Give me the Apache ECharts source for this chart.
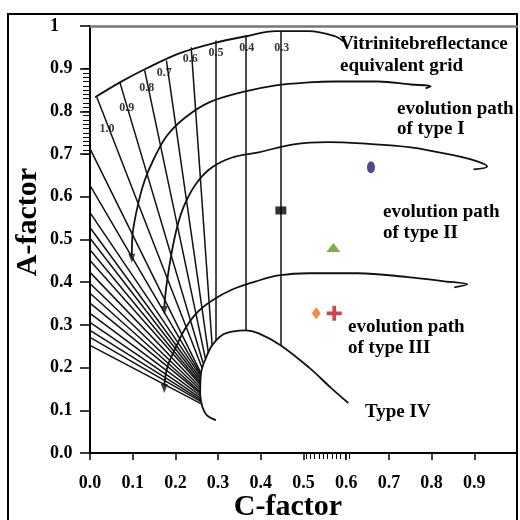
<!DOCTYPE html>
<html><head><meta charset="utf-8">
<script src="https://cdn.jsdelivr.net/npm/echarts@6/dist/echarts.min.js"></script>
<style>html,body{margin:0;padding:0;background:#fff}#c{width:520px;height:520px}</style>
</head><body><div id="c"></div><script>
// ---- data ----
const xTickLabels = ['0.0','0.1','0.2','0.3','0.4','0.5','0.6','0.7','0.8','0.9'];
const yTickLabels = ['0.0','0.1','0.2','0.3','0.4','0.5','0.6','0.7','0.8','0.9','1'];

const topBoundary = [[0.012,0.833],[0.070,0.868],[0.133,0.901],[0.209,0.936],[0.286,0.959],[0.365,0.976],[0.435,0.988],[0.512,0.988],[0.574,0.976],[0.593,0.964]];
const typeIPath = [[0.786,0.854],[0.798,0.859],[0.751,0.863],[0.674,0.870],[0.574,0.870],[0.512,0.868],[0.435,0.861],[0.356,0.845],[0.279,0.821],[0.221,0.784],[0.181,0.744],[0.151,0.692],[0.128,0.638],[0.112,0.580],[0.100,0.515],[0.098,0.464]];
const typeIIPath = [[0.898,0.664],[0.930,0.671],[0.907,0.683],[0.853,0.697],[0.751,0.716],[0.635,0.725],[0.558,0.728],[0.477,0.723],[0.395,0.704],[0.333,0.692],[0.286,0.669],[0.251,0.634],[0.223,0.585],[0.205,0.533],[0.191,0.468],[0.179,0.392],[0.174,0.343]];
const typeIIIPath = [[0.853,0.388],[0.884,0.395],[0.830,0.402],[0.744,0.412],[0.628,0.421],[0.512,0.421],[0.442,0.416],[0.395,0.404],[0.333,0.383],[0.286,0.357],[0.249,0.327],[0.221,0.288],[0.198,0.241],[0.181,0.201],[0.174,0.159]];
const typeIVPath = [[0.295,0.077],[0.274,0.088],[0.263,0.109],[0.258,0.139],[0.260,0.187],[0.272,0.224],[0.286,0.252],[0.309,0.276],[0.337,0.285],[0.365,0.287],[0.395,0.280],[0.447,0.252],[0.512,0.201],[0.565,0.152],[0.605,0.117]];
const arrowHeads = [[0.098,0.456],[0.174,0.334],[0.174,0.151]];

const roLabels = ['1.0','0.9','0.8','0.7','0.6','0.5','0.4','0.3'];
const roLineStart = [[0.016,0.833],[0.070,0.868],[0.128,0.896],[0.179,0.919],[0.237,0.950],[0.295,0.966],[0.365,0.978],[0.447,0.987]];
const roLineEnd = [[0.263,0.198],[0.265,0.210],[0.270,0.222],[0.277,0.236],[0.286,0.252],[0.295,0.263],[0.365,0.287],[0.447,0.252]];
const roLabelPos = [[0.040,0.760],[0.086,0.809],[0.133,0.854],[0.174,0.889],[0.235,0.924],[0.295,0.938],[0.367,0.948],[0.449,0.948]];

const axisFanStartY = [0.713,0.627,0.563,0.528,0.503,0.476,0.451,0.423,0.397,0.374,0.351,0.327,0.306,0.287,0.271,0.252];
const axisFanEnd = [[0.259,0.189],[0.259,0.184],[0.259,0.180],[0.259,0.174],[0.259,0.168],[0.259,0.163],[0.259,0.159],[0.258,0.154],[0.258,0.148],[0.258,0.143],[0.259,0.139],[0.259,0.134],[0.260,0.128],[0.261,0.123],[0.262,0.119],[0.263,0.114]];

const purpleSample = [[0.658,0.669]];
const blackSample = [[0.447,0.568]];
const greenSample = [[0.570,0.481]];
const orangeSample = [[0.530,0.327]];
const redSample = [[0.572,0.327]];

// ---- chart ----
const F = '"Liberation Serif", "DejaVu Serif", serif';
const ink = '#111';
const chart = echarts.init(document.getElementById('c'), null, {renderer:'canvas'});
const baseLine = {color: ink, width: 1.8};
function curve(data){
  return {type:'line', xAxisIndex:0, yAxisIndex:0, data, smooth:0.35, symbol:'none', lineStyle:baseLine, silent:true, z:3};
}
const fanData = [];
roLineStart.forEach((s,i)=>fanData.push({coords:[s, roLineEnd[i]]}));
axisFanStartY.forEach((y,i)=>fanData.push({coords:[[0,y], axisFanEnd[i]]}));

const option = {
  animation:false,
  backgroundColor:'#fff',
  grid:[
    {left:90, top:26, width:432, height:427},
    {left:90, top:68.7, width:10, height:85.4},
    {left:306, top:26, width:43.2, height:427}
  ],
  xAxis:[
    {gridIndex:0, type:'value', min:0, max:1, interval:0.1,
     axisLine:{lineStyle:{color:'#000', width:2}},
     axisTick:{length:7, lineStyle:{color:'#000', width:1.5}},
     axisLabel:{margin:21, color:'#000', fontFamily:F, fontWeight:'bold', fontSize:18,
       formatter:(v)=>{const i=Math.round(v*10); return xTickLabels[i]||'';}},
     splitLine:{show:false}},
    {gridIndex:0, type:'value', position:'top', min:0, max:1,
     axisLine:{lineStyle:{color:'#777', width:2.5}}, axisTick:{show:false}, axisLabel:{show:false}, splitLine:{show:false}},
    {gridIndex:1, type:'value', min:0, max:1, show:false},
    {gridIndex:2, type:'value', min:0.5, max:0.6, interval:0.01,
     axisLine:{show:false}, axisTick:{length:6, lineStyle:{color:'#000', width:1}}, axisLabel:{show:false}, splitLine:{show:false}}
  ],
  yAxis:[
    {gridIndex:0, type:'value', min:0, max:1, interval:0.1,
     axisLine:{lineStyle:{color:'#000', width:2}},
     axisTick:{length:10, lineStyle:{color:'#000', width:1.5}},
     axisLabel:{margin:40, align:'left', color:'#000', fontFamily:F, fontWeight:'bold', fontSize:18,
       formatter:(v)=>{const i=Math.round(v*10); return yTickLabels[i]||'';}},
     splitLine:{show:false}},
    {gridIndex:1, type:'value', min:0.7, max:0.9, interval:0.01,
     axisLine:{show:false}, axisTick:{length:7, lineStyle:{color:'#000', width:1}}, axisLabel:{show:false}, splitLine:{show:false}},
    {gridIndex:2, type:'value', min:0, max:1, show:false}
  ],
  series:[
    {type:'lines', coordinateSystem:'cartesian2d', xAxisIndex:0, yAxisIndex:0, data:fanData,
     lineStyle:{color:ink, width:1.5, opacity:1}, silent:true, z:2},
    curve(topBoundary), curve(typeIPath), curve(typeIIPath), curve(typeIIIPath), curve(typeIVPath),
    {type:'scatter', xAxisIndex:0, yAxisIndex:0, data:arrowHeads, symbol:'triangle', symbolRotate:180, symbolSize:[7,9],
     itemStyle:{color:ink}, silent:true, z:4},
    {type:'scatter', xAxisIndex:0, yAxisIndex:0, symbolSize:0, silent:true, z:5,
     data: roLabelPos.map((p,i)=>({value:p, name:roLabels[i]})),
     label:{show:true, position:'inside', formatter:'{b}', color:'#000', fontFamily:F, fontWeight:'bold', fontSize:12}},
    {type:'scatter', xAxisIndex:0, yAxisIndex:0, data:purpleSample, symbol:'circle', symbolSize:[8,12], itemStyle:{color:'#2a1a70'}, z:6},
    {type:'scatter', xAxisIndex:0, yAxisIndex:0, data:blackSample, symbol:'rect', symbolSize:[11,8], itemStyle:{color:'#000'}, z:6},
    {type:'scatter', xAxisIndex:0, yAxisIndex:0, data:greenSample, symbol:'triangle', symbolSize:[14,9], itemStyle:{color:'#5e9a1e'}, z:6},
    {type:'scatter', xAxisIndex:0, yAxisIndex:0, data:orangeSample, symbol:'diamond', symbolSize:[9,12], itemStyle:{color:'#e8701a'}, z:6},
    {type:'scatter', xAxisIndex:0, yAxisIndex:0, data:redSample, symbol:'path://M6,0H10V6H16V10H10V16H6V10H0V6H6Z', symbolSize:[15,15], itemStyle:{color:'#c8141e'}, z:6}
  ],
  graphic:[
    {type:'rect', shape:{x:8, y:14, width:509, height:520}, style:{fill:'none', stroke:'#000', lineWidth:2}, silent:true},
    {type:'text', x:28, y:222, rotation:Math.PI/2, style:{text:'A-factor', font:'bold 30px '+F, fill:'#000', textAlign:'center', textVerticalAlign:'middle'}},
    {type:'text', x:288, y:507, style:{text:'C-factor', font:'bold 30px '+F, fill:'#000', textAlign:'center', textVerticalAlign:'middle'}},
    {type:'text', x:340, y:44, style:{text:'Vitrinitebreflectance', font:'bold 19px '+F, fill:'#000', textVerticalAlign:'middle'}},
    {type:'text', x:340, y:66, style:{text:'equivalent grid', font:'bold 19px '+F, fill:'#000', textVerticalAlign:'middle'}},
    {type:'text', x:397, y:109, style:{text:'evolution path', font:'bold 19px '+F, fill:'#000', textVerticalAlign:'middle'}},
    {type:'text', x:397, y:129, style:{text:'of type I', font:'bold 19px '+F, fill:'#000', textVerticalAlign:'middle'}},
    {type:'text', x:383, y:212, style:{text:'evolution path', font:'bold 19px '+F, fill:'#000', textVerticalAlign:'middle'}},
    {type:'text', x:383, y:233, style:{text:'of type II', font:'bold 19px '+F, fill:'#000', textVerticalAlign:'middle'}},
    {type:'text', x:348, y:327, style:{text:'evolution path', font:'bold 19px '+F, fill:'#000', textVerticalAlign:'middle'}},
    {type:'text', x:348, y:348, style:{text:'of type III', font:'bold 19px '+F, fill:'#000', textVerticalAlign:'middle'}},
    {type:'text', x:365, y:412, style:{text:'Type IV', font:'bold 19px '+F, fill:'#000', textVerticalAlign:'middle'}}
  ]
};
chart.setOption(option);
</script></body></html>
